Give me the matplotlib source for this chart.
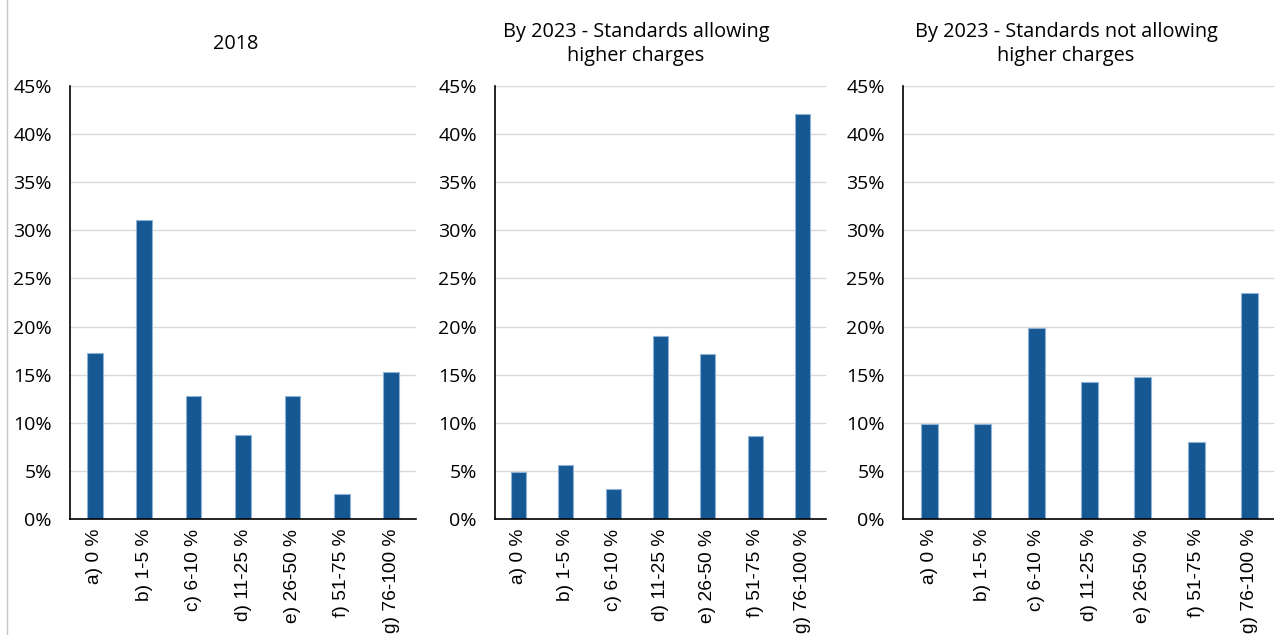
import matplotlib.pyplot as plt
from matplotlib.ticker import PercentFormatter
from matplotlib.lines import Line2D

categories = ['a) 0 %', 'b) 1-5 %', 'c) 6-10 %', 'd) 11-25 %',
              'e) 26-50 %', 'f) 51-75 %', 'g) 76-100 %']

share_2018 = [17.3, 31.1, 12.8, 8.7, 12.8, 2.6, 15.3]
share_2023_allowing = [4.9, 5.6, 3.1, 19.0, 17.1, 8.6, 42.1]
share_2023_not_allowing = [9.9, 9.9, 19.8, 14.2, 14.8, 8.0, 23.5]

titles = ['2018',
          'By 2023 - Standards allowing\nhigher charges',
          'By 2023 - Standards not allowing\nhigher charges']

BAR = '#155893'
EDGE = '#8fb3d6'
GRID = '#d9d9d9'
TITLE_FONT = ['Open Sans', 'DejaVu Sans']
TICK_FONT = ['Liberation Sans', 'DejaVu Sans']

fig = plt.figure(figsize=(12.74, 6.35), dpi=100)

# axes boxes in pixels (left, width)
boxes = [(70, 346), (495, 331), (903, 373)]
title_x = [236, 636, 1066]
bottom = 1 - 519 / 635
height = (519 - 86) / 635

for (left, width), tx, title, values in zip(
        boxes, title_x, titles,
        [share_2018, share_2023_allowing, share_2023_not_allowing]):
    ax = fig.add_axes([left / 1274, bottom, width / 1274, height])
    x = range(len(categories))
    ax.bar(x, values, width=0.32, color=BAR, edgecolor=EDGE,
           linewidth=0.8, zorder=3)
    ax.set_xlim(-0.5, len(categories) - 0.5)
    ax.set_ylim(0, 45)
    ax.set_yticks(range(0, 46, 5))
    ax.yaxis.set_major_formatter(PercentFormatter(decimals=0))
    ax.grid(axis='y', color=GRID, linewidth=1, zorder=0)
    ax.set_xticks(list(x))
    ax.set_xticklabels(categories, rotation=90, va='top', ha='center',
                       fontsize=13.8, family=TICK_FONT)
    for lab in ax.get_yticklabels():
        lab.set_family(TITLE_FONT)
        lab.set_fontsize(14)
    ax.tick_params(axis='y', length=0, pad=13)
    ax.tick_params(axis='x', length=0, pad=7)
    for s in ('top', 'right'):
        ax.spines[s].set_visible(False)
    for s in ('left', 'bottom'):
        ax.spines[s].set_color('black')
        ax.spines[s].set_linewidth(1.2)
        ax.spines[s].set_zorder(4)
    fig.text(tx / 1274, 1 - 44 / 635, title, ha='center', va='center',
             fontsize=14.3, family=TITLE_FONT, linespacing=1.2)

# thin grey frame line at the left edge
fig.add_artist(Line2D([7 / 1274, 7 / 1274], [0, 1], color='#c8c8c8',
                      linewidth=1, transform=fig.transFigure))

fig.savefig('out.png', dpi=100)
